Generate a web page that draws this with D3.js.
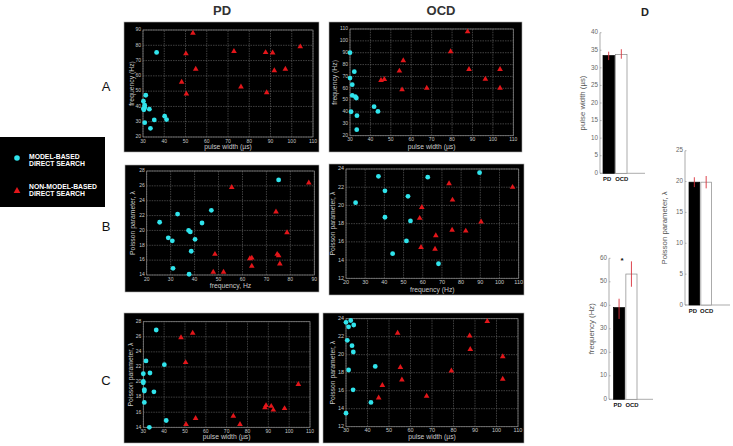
<!DOCTYPE html>
<html><head><meta charset="utf-8">
<script src="https://cdn.jsdelivr.net/npm/d3@7"></script>
<style>body{margin:0;background:#fff}svg{display:block;font-family:"Liberation Sans",Arial,sans-serif}</style>
</head><body><svg id="c" width="733" height="446"></svg>
<script>
// ---------------- DATA ----------------
const columnTitles = ["PD", "OCD"];
const rowLabels = ["A", "B", "C"];
const legendGroups = [["MODEL-BASED", "DIRECT SEARCH"], ["NON-MODEL-BASED", "DIRECT SEARCH"]];

const pulseTicks = [30, 40, 50, 60, 70, 80, 90, 100, 110];
const freqTicksA_PD = [20, 30, 40, 50, 60, 70, 80, 90];
const freqTicksA_OCD = [20, 30, 40, 50, 60, 70, 80, 90, 100, 110];
const freqTicksB_PD = [20, 30, 40, 50, 60, 70, 80, 90];
const freqTicksB_OCD = [20, 30, 40, 50, 60, 70, 80, 90, 100, 110];
const poissonTicksPD = [14, 16, 18, 20, 22, 24, 26, 28];
const poissonTicksOCD = [12, 14, 16, 18, 20, 22, 24];

// Row A: pulse width (µs) vs frequency (Hz)
const A_PD_model = [[36.4,75.3],[31.3,47.3],[30.2,43.4],[30.8,40.8],[30.2,38.6],[30.8,39.2],[33,38.2],[35.3,31.2],[30.8,29.4],[33.5,25.7],[40.2,33.6],[41.1,31.4],[30.4,37.8]];
const A_PD_nonmodel = [[53.5,88],[50.2,74.5],[54.8,64.4],[48.2,55.9],[50.4,48.2],[72.8,76],[76.1,52.8],[87.7,75.3],[91,75.1],[91.8,63.5],[97,64.4],[88.2,49.1],[104,79.1]];
const A_OCD_model = [[30,90],[30,68.6],[32.1,74],[31.1,63],[31.1,54],[32.6,52.9],[33.1,51.8],[30.5,40.2],[33.4,36.9],[33.3,25.1],[41.8,44.5],[43.7,40.5]];
const A_OCD_nonmodel = [[87.6,107.7],[79.3,90.9],[56.1,83.3],[54.2,74.6],[55.5,58.8],[45.2,66.7],[46.8,67.5],[67.6,60.2],[88.3,76],[96.3,67.8],[103.5,76],[103.5,60.2]];

// Row B: frequency (Hz) vs Poisson parameter
const B_PD_model = [[25.4,21.1],[32.9,22.2],[29,19],[30.7,18.6],[37.5,20],[38.2,19.8],[43.1,21],[40.2,18.8],[38.6,17.2],[31,14.9],[37.7,14.1],[47,22.7],[75.1,26.8]];
const B_PD_nonmodel = [[55.5,25.8],[87.7,26.4],[74,22.5],[78.6,19.7],[48.5,16.8],[47.8,14.4],[52.1,14.4],[63.1,16.2],[63.9,16.3],[63.9,15.2],[74.5,16.8],[75.1,16.6],[75.6,15.5]];
const B_OCD_model = [[25,20.3],[40.3,21.6],[40.3,18.7],[52.3,21],[53.6,18.3],[51.5,16.1],[44.3,14.7],[68.2,13.6],[36.9,23.2],[62.6,23.1],[89.6,23.6]];
const B_OCD_nonmodel = [[73.7,22.4],[106.8,22],[75.5,20.6],[59.5,19.8],[58.4,18.6],[75.3,17.3],[82.4,17.2],[90.4,18.2],[66.8,16.7],[59.1,15.4],[66.4,15.2]];

// Row C: pulse width (µs) vs Poisson parameter
const C_PD_model = [[36.2,26.9],[31.3,22.8],[30,21.1],[33.2,21.2],[40.1,22.3],[30,20.1],[30,19.9],[30.5,19],[30.5,18.8],[35.1,18.7],[30.5,17.3],[41,14.9],[32.9,14]];
const C_PD_nonmodel = [[48.1,25.9],[53.7,26.5],[50.3,22.6],[50.5,14.4],[55.1,15.2],[73.2,15.5],[76.4,14.4],[88.4,16.6],[88.9,16.9],[91.4,16.8],[92.4,16.3],[97.8,16.5],[104.4,19.7]];
const C_OCD_model = [[30,23.6],[32.2,23.8],[31.2,23.1],[33.6,23.3],[30.6,21.6],[32.8,21],[33.4,20.3],[31.2,18.3],[33.3,16.1],[41.6,14.7],[43.6,18.7],[30,13.5]];
const C_OCD_nonmodel = [[95.7,23.7],[54,22.4],[87.5,22.1],[87.8,20.6],[102.9,19.8],[79,18.2],[55.3,18.6],[56,17.2],[102.9,17.3],[46.9,16.6],[45.2,15.2],[67.5,15.4]];

// Panel D: group means with error bars
const barGroups = ["PD", "OCD"];
const pulseMeans = [33.5, 33.8];
const pulseErr = [[32.2, 34.6], [32.6, 35.3]];
const pulseBarTicks = [0, 5, 10, 15, 20, 25, 30, 35, 40];
const poissonMeans = [19.9, 19.9];
const poissonErr = [[19.1, 20.7], [18.9, 20.9]];
const poissonBarTicks = [0, 5, 10, 15, 20, 25];
const freqMeans = [39, 53.3];
const freqErr = [[34.2, 42.8], [47.9, 58.7]];
const freqBarTicks = [0, 10, 20, 30, 40, 50, 60];

// ---------------- DRAW ----------------
const svg = d3.select("#c");
const CYAN = "#30e4ec", RED = "#e2161a";

function scatterPanel(cfg) {
  const g = svg.append("g");
  g.append("rect").attr("x", cfg.box[0]).attr("y", cfg.box[1])
    .attr("width", cfg.box[2] - cfg.box[0]).attr("height", cfg.box[3] - cfg.box[1])
    .attr("fill", "#000").attr("stroke", "#aaa").attr("stroke-width", 0.6);
  const x = d3.scaleLinear().domain([cfg.xTicks[0], cfg.xTicks[cfg.xTicks.length - 1]]).range(cfg.xr);
  const y = d3.scaleLinear().domain([cfg.yTicks[0], cfg.yTicks[cfg.yTicks.length - 1]]).range(cfg.yr);
  g.append("g").selectAll("line").data(cfg.xTicks).join("line")
    .attr("x1", d => x(d)).attr("x2", d => x(d)).attr("y1", cfg.yr[0]).attr("y2", cfg.yr[1])
    .attr("stroke", "#6a6a6a").attr("stroke-width", 0.6).attr("stroke-dasharray", "1.5,1");
  g.append("g").selectAll("line").data(cfg.yTicks).join("line")
    .attr("y1", d => y(d)).attr("y2", d => y(d)).attr("x1", cfg.xr[0]).attr("x2", cfg.xr[1])
    .attr("stroke", "#6a6a6a").attr("stroke-width", 0.6).attr("stroke-dasharray", "1.5,1");
  g.append("rect").attr("x", cfg.xr[0]).attr("y", cfg.yr[1])
    .attr("width", cfg.xr[1] - cfg.xr[0]).attr("height", cfg.yr[0] - cfg.yr[1])
    .attr("fill", "none").attr("stroke", "#8a8a8a").attr("stroke-width", 0.7);
  const fs = cfg.tickFs || 5;
  g.append("g").selectAll("text").data(cfg.xTicks).join("text")
    .attr("x", d => x(d)).attr("y", cfg.yr[0] + 4.2).attr("text-anchor", "middle")
    .attr("dominant-baseline", "middle").attr("font-size", fs).attr("fill", "#c8c8c8").text(d => d);
  g.append("g").selectAll("text").data(cfg.yTicks).join("text")
    .attr("x", cfg.xr[0] - 2).attr("y", d => y(d)).attr("text-anchor", "end")
    .attr("dominant-baseline", "middle").attr("font-size", fs).attr("fill", "#c8c8c8").text(d => d);
  g.append("text").attr("x", (cfg.xr[0] + cfg.xr[1]) / 2).attr("y", cfg.xLabelY)
    .attr("text-anchor", "middle").attr("dominant-baseline", "middle")
    .attr("font-size", 6.8).attr("fill", "#c8c8c8").text(cfg.xLabel);
  g.append("text").attr("transform", `translate(${cfg.yLabelX},${(cfg.yr[0] + cfg.yr[1]) / 2}) rotate(-90)`)
    .attr("text-anchor", "middle").attr("dominant-baseline", "middle")
    .attr("font-size", 6.8).attr("fill", "#c8c8c8").text(cfg.yLabel);
  g.append("g").selectAll("path").data(cfg.nonmodel).join("path")
    .attr("d", d3.symbol(d3.symbolTriangle, 14))
    .attr("transform", d => `translate(${x(d[0])},${y(d[1])})`).attr("fill", RED);
  g.append("g").selectAll("circle").data(cfg.model).join("circle")
    .attr("cx", d => x(d[0])).attr("cy", d => y(d[1])).attr("r", 2.4).attr("fill", CYAN);
}

scatterPanel({box: [124, 22, 319, 152], xr: [143, 313], yr: [137, 30], xTicks: pulseTicks, yTicks: freqTicksA_PD,
  xLabel: "pulse width (µs)", yLabel: "frequency (Hz)", xLabelY: 147, yLabelX: 132, model: A_PD_model, nonmodel: A_PD_nonmodel});
scatterPanel({box: [329, 22, 522, 152], xr: [350, 513.3], yr: [135.7, 29], xTicks: pulseTicks, yTicks: freqTicksA_OCD,
  xLabel: "pulse width (µs)", yLabel: "frequency (Hz)", xLabelY: 147.3, yLabelX: 335, model: A_OCD_model, nonmodel: A_OCD_nonmodel});
scatterPanel({box: [125, 165, 319, 292], xr: [146.7, 314.3], yr: [275, 171], xTicks: freqTicksB_PD, yTicks: poissonTicksPD,
  xLabel: "frequency, Hz", yLabel: "Poisson parameter, λ", xLabelY: 286, yLabelX: 133, model: B_PD_model, nonmodel: B_PD_nonmodel});
scatterPanel({box: [329, 164, 524, 295], xr: [346, 518.7], yr: [278.3, 169], xTicks: freqTicksB_OCD, yTicks: poissonTicksOCD, tickFs: 5.5,
  xLabel: "frequency (Hz)", yLabel: "Poisson parameter, λ", xLabelY: 290, yLabelX: 333, model: B_OCD_model, nonmodel: B_OCD_nonmodel});
scatterPanel({box: [124, 313, 319, 443], xr: [143.3, 310], yr: [427.3, 321.7], xTicks: pulseTicks, yTicks: poissonTicksPD,
  xLabel: "pulse width (µs)", yLabel: "Poisson parameter, λ", xLabelY: 437.7, yLabelX: 131, model: C_PD_model, nonmodel: C_PD_nonmodel});
scatterPanel({box: [323, 313, 524, 443], xr: [346, 518], yr: [426.7, 318.7], xTicks: pulseTicks, yTicks: poissonTicksOCD, tickFs: 5.5,
  xLabel: "pulse width (µs)", yLabel: "Poisson parameter, λ", xLabelY: 437.7, yLabelX: 333, model: C_OCD_model, nonmodel: C_OCD_nonmodel});

// titles
svg.selectAll("text.coltitle").data(columnTitles).join("text").attr("class", "coltitle")
  .attr("x", (d, i) => [222, 441][i]).attr("y", 12).attr("text-anchor", "middle").attr("dominant-baseline", "middle")
  .attr("font-size", 13).attr("font-weight", "bold").attr("fill", "#333").text(d => d);
svg.selectAll("text.rowlab").data(rowLabels).join("text").attr("class", "rowlab")
  .attr("x", 106).attr("y", (d, i) => [88, 228, 382][i]).attr("text-anchor", "middle").attr("dominant-baseline", "middle")
  .attr("font-size", 13).attr("fill", "#111").text(d => d);
svg.append("text").attr("x", 645).attr("y", 13).attr("text-anchor", "middle").attr("dominant-baseline", "middle")
  .attr("font-size", 11).attr("font-weight", "bold").attr("fill", "#222").text("D");

// legend
const lg = svg.append("g");
lg.append("rect").attr("x", 0).attr("y", 137).attr("width", 105).attr("height", 70).attr("fill", "#000");
lg.append("circle").attr("cx", 17).attr("cy", 158).attr("r", 2.8).attr("fill", CYAN);
lg.append("path").attr("d", d3.symbol(d3.symbolTriangle, 20)).attr("transform", "translate(17,191)").attr("fill", RED);
legendGroups.forEach((lines, i) => {
  lines.forEach((t, j) => {
    lg.append("text").attr("x", 29).attr("y", [157.5, 187.5][i] + j * 7)
      .attr("dominant-baseline", "middle").attr("font-size", 6.8).attr("font-weight", "bold").attr("fill", "#fff").text(t);
  });
});

// bar charts
function barPanel(cfg) {
  const g = svg.append("g");
  const y = d3.scaleLinear().domain([cfg.ticks[0], cfg.ticks[cfg.ticks.length - 1]]).range(cfg.yr);
  const x = d3.scaleBand().domain(barGroups).range(cfg.xr).paddingInner(0.1);
  g.append("line").attr("x1", cfg.axisX).attr("x2", cfg.axisX).attr("y1", cfg.yr[0]).attr("y2", cfg.yr[1])
    .attr("stroke", "#888").attr("stroke-width", 0.7);
  g.append("line").attr("x1", cfg.axisX).attr("x2", cfg.axisEnd).attr("y1", cfg.yr[0]).attr("y2", cfg.yr[0])
    .attr("stroke", "#888").attr("stroke-width", 0.7);
  g.append("g").selectAll("line").data(cfg.ticks).join("line")
    .attr("x1", cfg.axisX).attr("x2", cfg.axisX + 1.5).attr("y1", d => y(d)).attr("y2", d => y(d))
    .attr("stroke", "#888").attr("stroke-width", 0.6);
  g.append("g").selectAll("text").data(cfg.ticks).join("text")
    .attr("x", cfg.axisX - 2).attr("y", d => y(d)).attr("text-anchor", "end").attr("dominant-baseline", "middle")
    .attr("font-size", 6.3).attr("fill", "#666").text(d => d);
  g.append("text").attr("transform", `translate(${cfg.labelX},${(cfg.yr[0] + cfg.yr[1]) / 2}) rotate(-90)`)
    .attr("text-anchor", "middle").attr("dominant-baseline", "middle").attr("font-size", 7.8).attr("fill", "#555").text(cfg.label);
  g.append("g").selectAll("rect").data(cfg.means).join("rect")
    .attr("x", (d, i) => x(barGroups[i])).attr("width", x.bandwidth())
    .attr("y", d => y(d)).attr("height", d => y(0) - y(d))
    .attr("fill", (d, i) => i === 0 ? "#000" : "#fff").attr("stroke", (d, i) => i === 0 ? "#000" : "#888").attr("stroke-width", 0.7);
  g.append("g").selectAll("line").data(cfg.err).join("line")
    .attr("x1", (d, i) => x(barGroups[i]) + x.bandwidth() / 2).attr("x2", (d, i) => x(barGroups[i]) + x.bandwidth() / 2)
    .attr("y1", d => y(d[0])).attr("y2", d => y(d[1])).attr("stroke", "#d9303a").attr("stroke-width", 0.9);
  g.append("g").selectAll("text").data(barGroups).join("text")
    .attr("x", (d, i) => x(d) + x.bandwidth() / 2 + (i === 0 ? -1.5 : 0.5)).attr("y", cfg.yr[0] + 6).attr("text-anchor", "middle")
    .attr("dominant-baseline", "middle").attr("font-size", 5.9).attr("font-weight", "bold").attr("fill", "#111").text(d => d);
  if (cfg.star) {
    g.append("text").attr("x", x("PD") + x.bandwidth() / 2 + 3).attr("y", cfg.yr[1] + 3).attr("text-anchor", "middle")
      .attr("dominant-baseline", "middle").attr("font-size", 8).attr("font-weight", "bold").attr("fill", "#111").text("*");
  }
}
barPanel({ticks: pulseBarTicks, yr: [173.3, 32.7], xr: [603, 627], axisX: 600, axisEnd: 645, labelX: 583, label: "pulse width (µs)", means: pulseMeans, err: pulseErr});
barPanel({ticks: poissonBarTicks, yr: [305, 150.7], xr: [689, 711.5], axisX: 685, axisEnd: 730, labelX: 665, label: "Poisson parameter, λ", means: poissonMeans, err: poissonErr});
barPanel({ticks: freqBarTicks, yr: [399.3, 258.3], xr: [613.5, 637], axisX: 609, axisEnd: 653, labelX: 591.7, label: "frequency (Hz)", means: freqMeans, err: freqErr, star: true});
</script></body></html>
